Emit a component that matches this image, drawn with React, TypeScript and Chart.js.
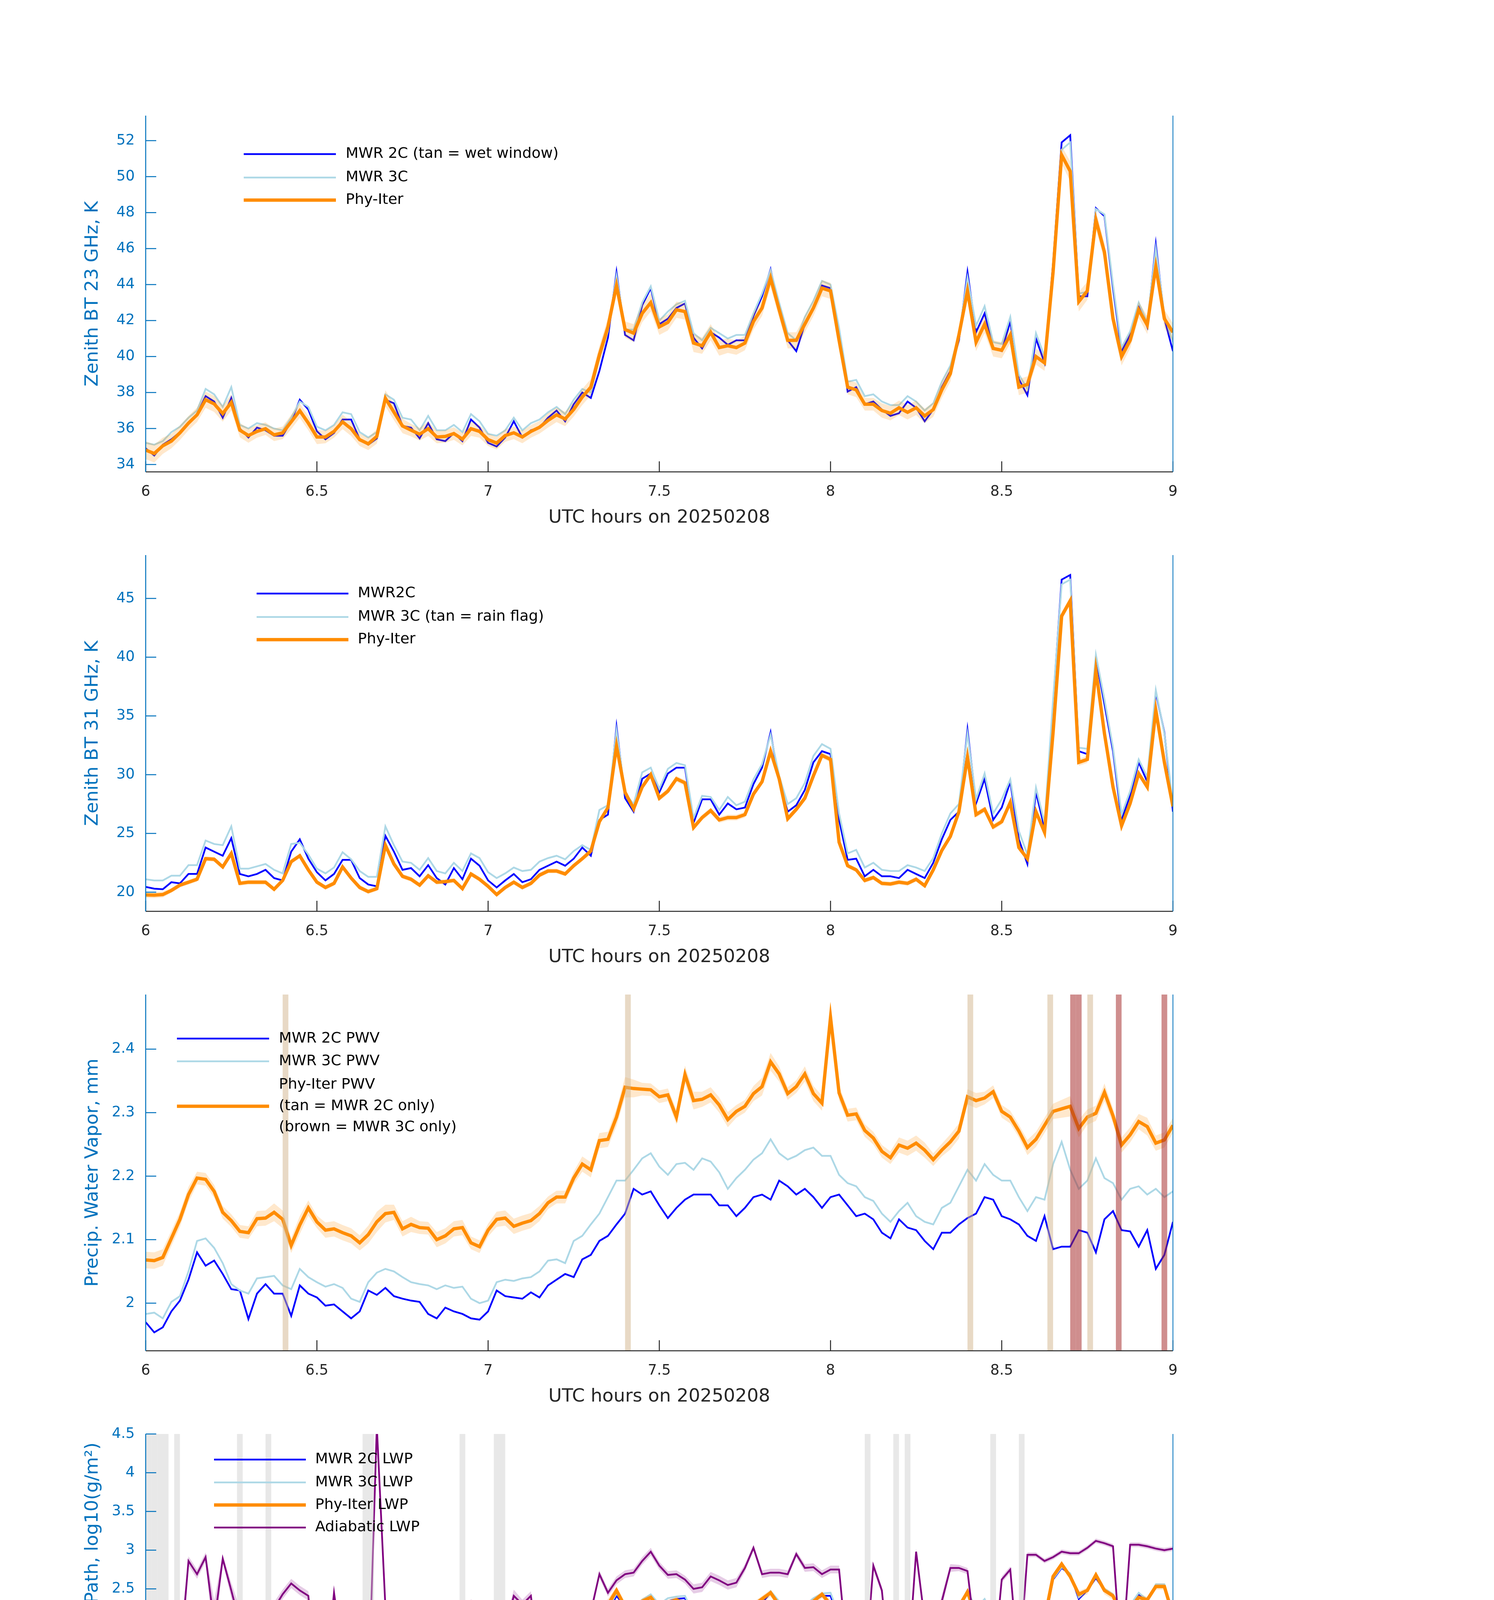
import { useEffect, useRef } from 'react'
import { Chart, registerables } from 'chart.js'

Chart.register(...registerables)

const FONT = "'DejaVu Sans', sans-serif"
const AXIS_BLUE = '#0072BD'
const DARK = '#262626'
const BLUE = '#0000FF'
const LIGHT_BLUE = '#ADD8E6'
const ORANGE = '#FF8C00'
const PURPLE = '#800080'
const ORANGE_BAND = 'rgba(255,140,0,0.2)'
const PURPLE_BAND = 'rgba(128,0,128,0.2)'
const TAN_BAR = 'rgba(210,180,140,0.5)'
const BROWN_BAR = 'rgba(165,42,42,0.53)'
const GREY_BAR = 'rgba(204,204,204,0.45)'

const PAGE_W = 3825
const PLOT_RIGHT = 3003
const Y_AXIS_W = 373
const PLOT_H = 912
const PAD_TOP = 200
const XAXIS_H = 170
const CANVAS_H = PAD_TOP + PLOT_H + XAXIS_H
const PANEL_TOPS = [296, 1421, 2546, 3671, 4796]

// retrieval times: every 1.5 min, 06:00 - 09:00 UTC
const hours = Array.from({ length: 121 }, (_, i) => 6 + i * 0.025)
// DQ flag times: every minute (centre of the minute)
const flagHours = Array.from({ length: 181 }, (_, k) => 6 + (k + 0.5) / 60)
const xTicks = [6, 6.5, 7, 7.5, 8, 8.5, 9]

// ---- panel 1: 23 GHz brightness temperature, K
const bt23Mwr2c = [
  34.9, 34.5, 35.1, 35.4, 35.8, 36.3, 36.8, 37.8, 37.5, 36.6,
  37.7, 36.0, 35.5, 36.05, 35.9, 35.6, 35.6, 36.4, 37.6, 37.05,
  35.85, 35.4, 35.75, 36.5, 36.5, 35.4, 35.1, 35.45, 37.6, 37.4,
  36.15, 36.05, 35.45, 36.3, 35.4, 35.3, 35.75, 35.3, 36.5, 36.05,
  35.2, 35.0, 35.5, 36.4, 35.5, 35.9, 36.05, 36.6, 37.0, 36.4,
  37.35, 38.0, 37.7, 39.2, 41.05, 44.7, 41.2, 40.9, 42.85, 43.8,
  41.8, 42.1, 42.7, 42.95, 41.05, 40.45, 41.35, 41.05, 40.65, 40.9,
  40.9, 42.25, 43.35, 44.85, 42.7, 40.9, 40.3, 41.8, 42.7, 43.95,
  43.8, 41.2, 38.05, 38.3, 37.35, 37.5, 37.05, 36.7, 36.85, 37.5,
  37.15, 36.4, 37.05, 38.3, 39.2, 40.9, 44.7, 41.35, 42.4, 40.45,
  40.3, 41.95, 38.75, 37.85, 41.0, 39.65, 45.2, 51.9, 52.3, 43.35,
  43.35, 48.25, 47.8, 43.8, 40.3, 41.2, 42.9, 41.65, 46.25, 42.1,
  40.3,
]
const bt23Mwr3c = [
  35.2, 35.1, 35.3, 35.8, 36.1, 36.6, 37.0, 38.2, 37.9, 37.2,
  38.3, 36.2, 36.0, 36.3, 36.2, 36.0, 35.9, 36.6, 37.5, 37.2,
  36.1, 35.9, 36.2, 36.9, 36.8, 35.8, 35.5, 35.8, 37.9, 37.6,
  36.6, 36.5, 35.9, 36.7, 35.9, 35.9, 36.2, 35.8, 36.8, 36.4,
  35.7, 35.6, 35.9, 36.6, 35.9, 36.3, 36.5, 36.9, 37.2, 36.8,
  37.6, 38.2, 38.0, 39.9, 41.4, 44.5, 41.5, 41.5, 43.0, 43.9,
  42.0, 42.5, 42.9, 43.1, 41.3, 40.9, 41.6, 41.3, 41.0, 41.2,
  41.2, 42.4, 43.5, 44.8, 43.0, 41.3, 40.9, 42.2, 43.1, 44.2,
  44.0, 41.6, 38.6, 38.7, 37.8, 37.9, 37.5, 37.3, 37.3, 37.8,
  37.5, 37.0, 37.4, 38.6, 39.5, 41.2, 44.4, 41.7, 42.8, 40.8,
  40.7, 42.2, 39.0, 38.2, 41.3, 40.0, 45.0, 51.5, 51.9, 43.5,
  43.6, 48.2, 47.9, 44.0, 40.5, 41.4, 43.0, 41.9, 46.0, 42.3,
  40.8,
]
const bt23Phy = [
  34.8, 34.61, 35.04, 35.3, 35.76, 36.3, 36.76, 37.6, 37.37, 36.83,
  37.45, 35.91, 35.61, 35.84, 35.99, 35.65, 35.76, 36.37, 36.99, 36.3,
  35.53, 35.53, 35.84, 36.37, 35.99, 35.38, 35.15, 35.56, 37.68, 36.91,
  36.14, 35.91, 35.68, 35.99, 35.53, 35.56, 35.72, 35.41, 35.99, 35.84,
  35.38, 35.19, 35.61, 35.76, 35.53, 35.84, 36.07, 36.45, 36.76, 36.53,
  37.06, 37.75, 38.3, 40.1, 41.65, 43.95, 41.5, 41.3, 42.4, 43.0,
  41.65, 41.9, 42.6, 42.5, 40.75, 40.6, 41.35, 40.5, 40.6, 40.5,
  40.75, 41.95, 42.7, 44.35, 42.6, 40.9, 40.9, 41.8, 42.7, 43.8,
  43.65, 40.9, 38.3, 38.15, 37.35, 37.35, 37.0, 36.85, 37.15, 36.9,
  37.15, 36.7, 37.05, 38.15, 39.05, 41.2, 43.65, 40.8, 41.8, 40.45,
  40.35, 41.2, 38.3, 38.45, 40.0, 39.65, 44.7, 51.2, 50.3, 43.05,
  43.65, 47.6, 45.8, 42.1, 40.0, 40.9, 42.6, 41.75, 45.0, 42.1,
  41.35,
]
const bt23Unc = [
  0.5, 0.5, 0.45, 0.4, 0.4, 0.4, 0.4, 0.45, 0.45, 0.45,
  0.45, 0.4, 0.4, 0.35, 0.35, 0.35, 0.35, 0.4, 0.4, 0.4,
  0.4, 0.35, 0.35, 0.4, 0.4, 0.35, 0.35, 0.4, 0.45, 0.45,
  0.4, 0.35, 0.35, 0.4, 0.35, 0.35, 0.35, 0.35, 0.4, 0.35,
  0.35, 0.35, 0.35, 0.35, 0.35, 0.35, 0.35, 0.4, 0.4, 0.4,
  0.4, 0.45, 0.45, 0.5, 0.5, 0.5, 0.45, 0.5, 0.5, 0.5,
  0.45, 0.45, 0.45, 0.45, 0.5, 0.45, 0.45, 0.45, 0.4, 0.4,
  0.4, 0.45, 0.45, 0.5, 0.45, 0.45, 0.45, 0.45, 0.45, 0.45,
  0.45, 0.45, 0.4, 0.4, 0.35, 0.35, 0.4, 0.4, 0.4, 0.4,
  0.4, 0.4, 0.4, 0.45, 0.45, 0.45, 0.5, 0.5, 0.5, 0.45,
  0.45, 0.45, 0.45, 0.45, 0.45, 0.45, 0.5, 0.5, 0.55, 0.55,
  0.5, 0.5, 0.5, 0.5, 0.5, 0.45, 0.45, 0.5, 0.5, 0.5,
  0.5,
]

// ---- panel 2: 31 GHz brightness temperature, K
const bt31Mwr2c = [
  20.45, 20.3, 20.25, 20.85, 20.75, 21.55, 21.55, 23.8, 23.45, 23.1,
  24.6, 21.55, 21.35, 21.55, 21.9, 21.2, 21.0, 23.45, 24.5, 22.85,
  21.7, 21.0, 21.55, 22.75, 22.75, 21.2, 20.65, 20.5, 24.8, 23.45,
  21.9, 22.05, 21.35, 22.3, 21.2, 20.65, 22.05, 21.1, 22.85, 22.25,
  21.0, 20.4, 21.0, 21.55, 20.85, 21.1, 21.9, 22.25, 22.6, 22.25,
  22.85, 23.8, 23.1, 26.15, 26.6, 34.1, 28.0, 26.85, 29.65, 30.1,
  28.5, 30.1, 30.6, 30.6, 25.9, 27.9, 27.9, 26.6, 27.55, 27.05,
  27.2, 29.2, 30.6, 33.6, 29.4, 26.85, 27.4, 28.7, 31.05, 32.0,
  31.75, 26.15, 22.75, 22.85, 21.35, 21.9, 21.35, 21.35, 21.2, 21.9,
  21.55, 21.2, 22.5, 24.5, 26.15, 26.85, 33.85, 27.55, 29.65, 26.15,
  27.2, 29.4, 24.5, 22.4, 28.5, 25.45, 36.0, 46.6, 47.0, 32.0,
  31.75, 39.95, 36.0, 32.0, 26.15, 28.25, 31.05, 29.4, 37.0, 33.6,
  26.85,
]
const bt31Mwr3c = [
  21.1, 21.0, 21.0, 21.4, 21.4, 22.3, 22.3, 24.4, 24.1, 24.0,
  25.6, 22.0, 22.0, 22.2, 22.4, 21.9, 21.6, 24.1, 24.2, 23.2,
  22.0, 21.6, 22.1, 23.4, 22.8, 21.8, 21.3, 21.3, 25.6, 24.0,
  22.6, 22.5, 21.9, 22.9, 21.8, 21.6, 22.5, 21.8, 23.3, 22.9,
  21.7, 21.2, 21.6, 22.1, 21.8, 21.9, 22.6, 22.9, 23.1, 22.8,
  23.5, 24.0, 23.6, 27.0, 27.4, 33.8, 28.4, 27.5, 30.2, 30.6,
  28.8, 30.5, 31.0, 30.8, 26.3, 28.2, 28.1, 27.0, 28.1, 27.4,
  27.7, 29.6, 30.9, 33.4, 29.9, 27.5, 28.0, 29.3, 31.6, 32.6,
  32.2, 26.7, 23.3, 23.6, 22.1, 22.5, 21.9, 21.8, 21.8, 22.3,
  22.1, 21.8, 22.9, 25.0, 26.7, 27.5, 33.5, 27.9, 30.1, 26.7,
  27.9, 29.6, 25.2, 23.2, 28.9, 25.9, 36.4, 46.2, 46.6, 32.3,
  32.2, 40.2, 36.4, 32.3, 26.6, 28.6, 31.3, 29.8, 37.2, 33.5,
  27.5,
]
const bt31Phy = [
  19.77, 19.75, 19.8, 20.15, 20.6, 20.85, 21.1, 22.85, 22.8, 22.15,
  23.3, 20.75, 20.85, 20.85, 20.85, 20.25, 21.0, 22.6, 23.1, 21.9,
  20.85, 20.4, 20.75, 22.15, 21.2, 20.4, 20.05, 20.3, 24.0, 22.4,
  21.35, 21.1, 20.6, 21.4, 20.85, 20.9, 21.0, 20.3, 21.55, 21.1,
  20.5, 19.8, 20.4, 20.85, 20.4, 20.75, 21.45, 21.8, 21.8, 21.55,
  22.25, 22.85, 23.5, 26.0, 27.2, 32.45, 28.5, 27.1, 28.95, 30.0,
  28.0, 28.6, 29.65, 29.3, 25.5, 26.35, 26.95, 26.15, 26.35, 26.35,
  26.6, 28.35, 29.4, 32.0, 29.65, 26.25, 27.05, 28.0, 29.9, 31.65,
  31.3, 24.25, 22.25, 21.9, 21.0, 21.25, 20.75, 20.7, 20.85, 20.75,
  21.1, 20.55, 21.9, 23.55, 24.75, 26.85, 31.5, 26.6, 27.05, 25.55,
  26.0, 27.65, 23.8, 22.85, 26.85, 25.1, 33.6, 43.5, 44.8, 31.05,
  31.3, 38.9, 33.5, 28.95, 25.65, 27.55, 30.1, 28.95, 35.5, 31.05,
  27.3,
]
const bt31Unc = [
  0.25, 0.25, 0.25, 0.2, 0.2, 0.2, 0.2, 0.2, 0.2, 0.2,
  0.2, 0.2, 0.2, 0.2, 0.2, 0.2, 0.2, 0.2, 0.2, 0.2,
  0.2, 0.2, 0.2, 0.2, 0.2, 0.2, 0.2, 0.2, 0.25, 0.2,
  0.2, 0.2, 0.2, 0.2, 0.2, 0.2, 0.2, 0.2, 0.2, 0.2,
  0.2, 0.2, 0.2, 0.2, 0.2, 0.2, 0.2, 0.2, 0.2, 0.2,
  0.2, 0.2, 0.25, 0.25, 0.25, 0.3, 0.25, 0.25, 0.25, 0.25,
  0.25, 0.25, 0.25, 0.25, 0.25, 0.25, 0.25, 0.25, 0.25, 0.25,
  0.25, 0.25, 0.25, 0.3, 0.25, 0.25, 0.25, 0.25, 0.25, 0.25,
  0.25, 0.25, 0.2, 0.2, 0.2, 0.2, 0.2, 0.2, 0.2, 0.2,
  0.2, 0.2, 0.2, 0.25, 0.25, 0.25, 0.3, 0.25, 0.25, 0.25,
  0.25, 0.25, 0.25, 0.25, 0.25, 0.25, 0.3, 0.35, 0.35, 0.3,
  0.3, 0.3, 0.3, 0.3, 0.25, 0.25, 0.25, 0.25, 0.3, 0.3,
  0.3,
]

// ---- panel 3: precipitable water vapour, mm
const pwvMwr2c = [
  1.970, 1.954, 1.962, 1.987, 2.004, 2.037, 2.080, 2.059, 2.067, 2.046,
  2.022, 2.020, 1.975, 2.015, 2.030, 2.015, 2.015, 1.980, 2.028, 2.015,
  2.009, 1.996, 1.998, 1.987, 1.976, 1.987, 2.020, 2.013, 2.024, 2.011,
  2.007, 2.004, 2.002, 1.983, 1.976, 1.993, 1.987, 1.983, 1.976, 1.974,
  1.987, 2.020, 2.011, 2.009, 2.007, 2.017, 2.009, 2.028, 2.037, 2.046,
  2.041, 2.069, 2.076, 2.098, 2.106, 2.124, 2.141, 2.180, 2.171, 2.176,
  2.154, 2.134, 2.150, 2.163, 2.171, 2.171, 2.171, 2.154, 2.154, 2.137,
  2.150, 2.167, 2.171, 2.163, 2.193, 2.184, 2.171, 2.180, 2.167, 2.150,
  2.167, 2.171, 2.154, 2.137, 2.141, 2.132, 2.111, 2.102, 2.132, 2.119,
  2.115, 2.098, 2.085, 2.111, 2.111, 2.124, 2.134, 2.141, 2.167, 2.163,
  2.137, 2.132, 2.124, 2.106, 2.098, 2.137, 2.085, 2.089, 2.089, 2.115,
  2.111, 2.080, 2.132, 2.145, 2.115, 2.113, 2.089, 2.115, 2.054, 2.076,
  2.128,
]
const pwvMwr3c = [
  1.983, 1.985, 1.976, 2.002, 2.011, 2.050, 2.098, 2.102, 2.087, 2.063,
  2.030, 2.020, 2.015, 2.039, 2.041, 2.043, 2.028, 2.022, 2.054, 2.041,
  2.033, 2.026, 2.030, 2.024, 2.007, 2.002, 2.033, 2.048, 2.054, 2.050,
  2.041, 2.033, 2.030, 2.028, 2.022, 2.028, 2.024, 2.026, 2.007, 2.000,
  2.004, 2.033, 2.037, 2.035, 2.039, 2.041, 2.050, 2.067, 2.069, 2.063,
  2.098, 2.106, 2.124, 2.141, 2.167, 2.193, 2.193, 2.210, 2.228, 2.236,
  2.215, 2.202, 2.219, 2.221, 2.210, 2.228, 2.223, 2.206, 2.180, 2.197,
  2.210, 2.226, 2.236, 2.258, 2.236, 2.226, 2.232, 2.241, 2.245, 2.232,
  2.232, 2.202, 2.189, 2.184, 2.167, 2.161, 2.141, 2.128, 2.145, 2.158,
  2.137, 2.128, 2.124, 2.150, 2.158, 2.184, 2.210, 2.193, 2.219, 2.202,
  2.193, 2.193, 2.167, 2.145, 2.167, 2.163, 2.219, 2.254, 2.210, 2.180,
  2.193, 2.228, 2.197, 2.189, 2.163, 2.180, 2.184, 2.171, 2.180, 2.167,
  2.176,
]
const pwvPhy = [
  2.068, 2.067, 2.072, 2.102, 2.132, 2.171, 2.197, 2.195, 2.176, 2.143,
  2.130, 2.113, 2.111, 2.133, 2.134, 2.143, 2.132, 2.091, 2.123, 2.150,
  2.128, 2.115, 2.117, 2.111, 2.106, 2.095, 2.108, 2.128, 2.141, 2.143,
  2.117, 2.124, 2.119, 2.118, 2.100, 2.106, 2.117, 2.119, 2.095, 2.089,
  2.115, 2.132, 2.134, 2.121, 2.126, 2.130, 2.141, 2.158, 2.167, 2.167,
  2.197, 2.219, 2.210, 2.256, 2.258, 2.293, 2.340, 2.338, 2.337, 2.336,
  2.325, 2.328, 2.293, 2.360, 2.319, 2.321, 2.328, 2.312, 2.289, 2.302,
  2.310, 2.330, 2.341, 2.380, 2.361, 2.330, 2.341, 2.361, 2.330, 2.315,
  2.450, 2.331, 2.296, 2.298, 2.272, 2.260, 2.239, 2.229, 2.249, 2.244,
  2.252, 2.241, 2.226, 2.241, 2.254, 2.271, 2.325, 2.319, 2.323, 2.333,
  2.302, 2.293, 2.271, 2.245, 2.258, 2.280, 2.302, 2.306, 2.310, 2.275,
  2.293, 2.299, 2.332, 2.295, 2.249, 2.265, 2.286, 2.278, 2.252, 2.257,
  2.280,
]
const pwvUnc = [
  0.013, 0.013, 0.013, 0.012, 0.012, 0.012, 0.01, 0.01, 0.01, 0.01,
  0.01, 0.01, 0.01, 0.012, 0.012, 0.014, 0.014, 0.012, 0.014, 0.012,
  0.01, 0.012, 0.012, 0.012, 0.012, 0.012, 0.014, 0.016, 0.014, 0.012,
  0.012, 0.012, 0.01, 0.01, 0.012, 0.012, 0.012, 0.012, 0.01, 0.01,
  0.01, 0.012, 0.012, 0.012, 0.012, 0.012, 0.012, 0.01, 0.01, 0.01,
  0.01, 0.012, 0.012, 0.012, 0.012, 0.014, 0.016, 0.014, 0.01, 0.01,
  0.01, 0.01, 0.012, 0.014, 0.014, 0.012, 0.012, 0.012, 0.012, 0.01,
  0.01, 0.012, 0.014, 0.014, 0.012, 0.01, 0.01, 0.012, 0.012, 0.012,
  0.02, 0.012, 0.01, 0.01, 0.01, 0.01, 0.01, 0.01, 0.012, 0.012,
  0.012, 0.012, 0.01, 0.01, 0.012, 0.012, 0.012, 0.012, 0.01, 0.01,
  0.01, 0.01, 0.01, 0.012, 0.012, 0.012, 0.012, 0.014, 0.016, 0.014,
  0.012, 0.012, 0.014, 0.012, 0.012, 0.012, 0.012, 0.014, 0.012, 0.012,
  0.012,
]
// minutes after 06:00 with a single-instrument retrieval
const pwvTanMinutes = [24, 84, 144, 158, 165]
const pwvBrownMinutes = [162, 163, 170, 178]

// ---- panel 4: liquid water path, log10(g/m2)
const lwpMwr2c = [
  1.57, 1.54, 1.56, 1.66, 1.57, 1.73, 1.70, 1.98, 1.91, 1.95,
  2.05, 1.73, 1.73, 1.80, 1.77, 1.57, 1.70, 1.88, 2.02, 1.89,
  1.63, 1.72, 1.77, 1.93, 1.80, 1.59, 1.54, 1.48, 1.98, 2.11,
  1.77, 1.80, 1.70, 1.75, 1.66, 1.88, 1.77, 1.68, 1.91, 1.88,
  1.70, 1.47, 1.64, 1.70, 1.63, 1.72, 1.77, 1.80, 1.84, 1.86,
  1.77, 1.88, 1.93, 2.14, 2.20, 2.41, 2.27, 2.23, 2.32, 2.39,
  2.27, 2.34, 2.37, 2.38, 2.11, 2.23, 2.21, 2.17, 2.18, 2.20,
  2.18, 2.30, 2.32, 2.45, 2.30, 2.16, 2.14, 2.25, 2.34, 2.41,
  2.41, 2.11, 1.79, 1.84, 1.59, 1.70, 1.61, 1.63, 1.63, 1.70,
  1.64, 1.60, 1.77, 2.02, 2.11, 2.27, 2.48, 2.20, 2.34, 2.11,
  2.20, 2.30, 1.98, 1.80, 2.27, 2.07, 2.62, 2.77, 2.69, 2.37,
  2.48, 2.64, 2.48, 2.41, 2.18, 2.27, 2.43, 2.34, 2.55, 2.55,
  2.14,
]
const lwpMwr3c = [
  1.64, 1.62, 1.63, 1.70, 1.66, 1.79, 1.78, 2.03, 1.97, 2.02,
  2.15, 1.80, 1.77, 1.84, 1.81, 1.64, 1.76, 1.95, 2.05, 1.93,
  1.70, 1.76, 1.83, 1.98, 1.85, 1.66, 1.62, 1.63, 2.05, 2.14,
  1.85, 1.86, 1.76, 1.82, 1.74, 1.92, 1.83, 1.74, 1.96, 1.94,
  1.77, 1.58, 1.72, 1.76, 1.70, 1.78, 1.82, 1.84, 1.88, 1.90,
  1.84, 1.93, 1.96, 2.18, 2.24, 2.44, 2.30, 2.28, 2.36, 2.43,
  2.30, 2.38, 2.40, 2.41, 2.16, 2.27, 2.24, 2.22, 2.22, 2.24,
  2.22, 2.33, 2.35, 2.47, 2.34, 2.21, 2.20, 2.29, 2.38, 2.44,
  2.45, 2.16, 1.87, 1.90, 1.68, 1.74, 1.68, 1.69, 1.70, 1.76,
  1.70, 1.67, 1.80, 2.05, 2.15, 2.30, 2.47, 2.25, 2.37, 2.15,
  2.24, 2.33, 2.04, 1.87, 2.29, 2.10, 2.63, 2.78, 2.70, 2.39,
  2.49, 2.66, 2.50, 2.43, 2.21, 2.29, 2.45, 2.36, 2.56, 2.56,
  2.17,
]
const lwpPhy = [
  1.02, 0.72, 0.84, 1.24, 1.34, 1.25, 1.63, 1.82, 1.82, 1.77,
  1.80, 1.34, 1.38, 1.43, 1.32, 0.67, 1.41, 1.77, 1.91, 1.70,
  1.06, 1.34, 1.63, 1.80, 1.56, 1.20, 0.49, -0.5, 1.88, 1.84,
  1.52, 1.59, 1.38, 1.16, 1.48, 1.43, 1.31, 1.02, 1.70, 1.66,
  1.34, -0.5, -0.5, 1.43, 0.81, 1.41, 1.54, 1.59, 1.66, 1.54,
  1.63, 1.79, 2.11, 2.20, 2.30, 2.48, 2.27, 2.21, 2.34, 2.39,
  2.25, 2.32, 2.36, 2.30, 2.11, 2.16, 2.20, 2.13, 2.16, 2.15,
  2.20, 2.29, 2.37, 2.45, 2.29, 2.14, 2.13, 2.25, 2.34, 2.43,
  2.30, 2.02, 1.56, 1.52, 0.95, 1.15, 0.81, 0.77, 0.81, 0.50,
  0.84, -0.5, 1.60, 1.91, 2.05, 2.27, 2.46, 2.14, 2.23, 2.07,
  2.16, 2.25, 2.05, 1.80, 2.20, 2.11, 2.66, 2.82, 2.66, 2.43,
  2.48, 2.68, 2.48, 2.41, 2.16, 2.25, 2.39, 2.36, 2.53, 2.53,
  2.16,
]
const lwpPhyHigh = [
  1.34, 1.2, 1.3, 1.5, 1.6, 1.55, 1.85, 1.95, 1.95, 1.9,
  1.95, 1.6, 1.6, 1.65, 1.6, 1.3, 1.65, 1.9, 2.0, 1.85,
  1.5, 1.6, 1.8, 1.9, 1.75, 1.5, 1.1, 0.8, 2.0, 1.95,
  1.75, 1.75, 1.6, 1.5, 1.65, 1.6, 1.5, 1.4, 1.8, 1.78,
  1.55, 0.8, 0.9, 1.6, 1.3, 1.6, 1.7, 1.75, 1.8, 1.72,
  1.78, 1.92, 2.2, 2.28, 2.37, 2.53, 2.33, 2.27, 2.38, 2.43,
  2.29, 2.36, 2.4, 2.34, 2.16, 2.2, 2.24, 2.17, 2.2, 2.19,
  2.24, 2.33, 2.41, 2.49, 2.33, 2.18, 2.17, 2.29, 2.38, 2.47,
  2.35, 2.12, 1.75, 1.7, 1.4, 1.5, 1.3, 1.25, 1.3, 1.2,
  1.3, 1.0, 1.7, 2.0, 2.12, 2.32, 2.5, 2.19, 2.27, 2.12,
  2.2, 2.29, 2.1, 1.9, 2.25, 2.16, 2.7, 2.86, 2.7, 2.47,
  2.52, 2.72, 2.52, 2.45, 2.2, 2.29, 2.43, 2.4, 2.57, 2.57,
  2.2,
]
const lwpPhyLow = [
  -1, -1, -1, 0.5, -1, -1, -1, 0.3, 0.3, 0.8,
  -1, -1, -1, 0.9, -1, -1, 0.6, 1.2, 1.5, 1.3,
  -1, 0.8, 1.2, 1.3, 0.9, -1, -1, -1, 1.4, 1.5,
  1.1, 1.0, 0.8, -1, 0.9, 0.8, 0.9, -1, 1.1, 1.2,
  0.7, -1, -1, -1, -1, 0.9, 1.0, 1.1, 1.3, 1.3,
  1.4, 1.6, 2.0, 2.12, 2.23, 2.42, 2.2, 2.14, 2.28, 2.34,
  2.2, 2.27, 2.31, 2.25, 2.05, 2.11, 2.15, 2.08, 2.11, 2.1,
  2.15, 2.24, 2.32, 2.4, 2.24, 2.09, 2.08, 2.2, 2.29, 2.38,
  2.25, 1.9, 1.3, 1.3, -1, -1, -1, -1, -1, -1,
  -1, -1, -1, 1.8, 2.0, 2.22, 2.41, 2.08, 2.18, 2.02,
  2.11, 2.2, 1.98, 1.7, 2.14, 2.05, 2.62, 2.78, 2.62, 2.38,
  2.43, 2.64, 2.43, 2.36, 2.1, 2.2, 2.34, 2.31, 2.49, 2.49,
  2.1,
]
const lwpAdiabatic = [
  1.48, 1.15, 1.15, 2.09, 1.56, 2.86, 2.69, 2.91, 2.05, 2.89,
  2.48, 2.05, 1.63, 1.27, 1.43, 2.25, 2.43, 2.57, 2.48, 2.41,
  1.31, 1.36, 2.45, 1.63, 1.50, 1.20, 1.04, 4.6, 2.27, 2.27,
  1.80, 1.93, 1.91, 2.02, 2.13, 2.04, 2.07, 1.50, 2.32, 2.13,
  1.98, 1.61, 1.98, 2.41, 2.30, 2.41, 1.52, 1.66, 2.23, 2.13,
  2.00, 1.77, 2.20, 2.69, 2.45, 2.61, 2.69, 2.71, 2.86, 2.98,
  2.80, 2.68, 2.69, 2.62, 2.50, 2.52, 2.66, 2.61, 2.55, 2.58,
  2.77, 3.03, 2.69, 2.71, 2.71, 2.69, 2.95, 2.77, 2.78, 2.69,
  2.75, 2.75, 1.59, 1.61, 1.41, 2.80, 2.48, 1.34, 1.84, 1.41,
  2.98, 2.09, 1.95, 2.34, 2.77, 2.77, 2.73, 1.80, 2.23, 1.45,
  2.62, 2.75, 1.45, 2.94, 2.94, 2.86, 2.91, 2.98, 2.96, 2.96,
  3.03, 3.12, 3.09, 3.05, 1.50, 3.07, 3.07, 3.05, 3.02, 3.00,
  3.02,
]
const lwpAdiabaticUnc = [
  0.35, 0.4, 0.4, 0.25, 0.3, 0.06, 0.06, 0.06, 0.3, 0.05,
  0.1, 0.2, 0.25, 0.3, 0.3, 0.08, 0.06, 0.06, 0.06, 0.06,
  0.15, 0.2, 0.06, 0.25, 0.2, 0.3, 0.3, 0.05, 0.06, 0.06,
  0.15, 0.12, 0.1, 0.12, 0.1, 0.1, 0.08, 0.1, 0.05, 0.06,
  0.1, 0.15, 0.1, 0.08, 0.06, 0.06, 0.15, 0.1, 0.1, 0.08,
  0.08, 0.08, 0.06, 0.05, 0.05, 0.05, 0.05, 0.05, 0.05, 0.05,
  0.05, 0.05, 0.05, 0.05, 0.06, 0.06, 0.06, 0.06, 0.06, 0.06,
  0.05, 0.04, 0.05, 0.05, 0.05, 0.05, 0.04, 0.05, 0.05, 0.05,
  0.05, 0.05, 0.1, 0.1, 0.12, 0.05, 0.05, 0.2, 0.1, 0.15,
  0.04, 0.08, 0.08, 0.08, 0.05, 0.04, 0.04, 0.1, 0.06, 0.2,
  0.04, 0.04, 0.2, 0.03, 0.03, 0.03, 0.03, 0.03, 0.03, 0.03,
  0.03, 0.03, 0.03, 0.03, 0.25, 0.03, 0.03, 0.03, 0.03, 0.03,
  0.03,
]

// ---- panel 5: Phy-Iter data quality flag, one per minute
const dqFlags = [
  4, 4, 4, 4, 0, 4, 0, 0, 0, 0, 0, 0, 0, 0, 0, 0, 4, 0, 0, 0,
  0, 4, 0, 0, 0, 0, 0, 0, 0, 0, 0, 0, 0, 0, 0, 0, 0, 0, 4, 4,
  6, 0, 0, 0, 0, 0, 0, 0, 0, 0, 0, 0, 0, 0, 0, 4, 0, 0, 0, 0,
  0, 4, 4, 0, 0, 0, 0, 0, 0, 0, 0, 0, 0, 0, 0, 0, 0, 0, 0, 0,
  0, 0, 0, 0, 0, 0, 0, 0, 0, 0, 0, 0, 0, 0, 6, 0, 0, 0, 0, 0,
  0, 0, 0, 0, 0, 0, 0, 0, 0, 0, 0, 0, 0, 0, 0, 0, 0, 0, 0, 6,
  0, 0, 0, 0, 0, 0, 4, 0, 0, 0, 0, 4, 0, 4, 0, 0, 0, 0, 0, 0,
  0, 0, 0, 0, 0, 0, 0, 6, 4, 0, 0, 0, 0, 4, 0, 0, 0, 0, 0, 0,
  0, 0, 0, 0, 0, 0, 0, 0, 0, 0, 0, 0, 0, 0, 0, 0, 0, 0, 0, 0,
  0,
]
// minute that carries a second flag value
const dqExtraMinutes = [40]
const dqExtraFlags = [4]

const xy = (vals: number[], t: number[] = hours) => vals.map((y, i) => ({ x: t[i], y }))
const add = (a: number[], b: number[]) => a.map((v, i) => v + b[i])
const sub = (a: number[], b: number[]) => a.map((v, i) => v - b[i])

function lineSet(label: string, vals: number[], color: string, width: number, order: number) {
  return {
    label, data: xy(vals), borderColor: color, backgroundColor: color, borderWidth: width,
    pointRadius: 0, pointHoverRadius: 0, tension: 0, fill: false, clip: 0, order,
  }
}

function bandSets(label: string, hi: number[], lo: number[], color: string, order: number) {
  return [
    { label: label + ' hi', data: xy(hi), borderColor: 'rgba(0,0,0,0)', borderWidth: 1, pointRadius: 0,
      fill: '+1', backgroundColor: color, tension: 0, clip: 0, order },
    { label: label + ' lo', data: xy(lo), borderColor: 'rgba(0,0,0,0)', borderWidth: 1, pointRadius: 0,
      fill: false, tension: 0, clip: 0, order },
  ]
}

const minuteBars = (minutes: number[], color: string) =>
  minutes.map(m => ({ from: 6 + m / 60, to: 6 + (m + 1) / 60, color }))

type LegendRow = { text: string; y: number; color?: string; width?: number }
type LegendSpec = { x0: number; x1: number; tx: number; rows: LegendRow[] }
type Bar = { from: number; to: number; color: string }

function framePlugin(legend: LegendSpec | null, bars: Bar[]) {
  return {
    id: 'frame',
    afterDatasetsDraw(chart: any) {
      const { ctx, chartArea: a, scales: { x } } = chart
      ctx.save()
      ctx.beginPath(); ctx.rect(a.left, a.top, a.right - a.left, a.bottom - a.top); ctx.clip()
      for (const b of bars) {
        const p0 = x.getPixelForValue(b.from), p1 = x.getPixelForValue(b.to)
        ctx.fillStyle = b.color
        ctx.fillRect(p0, a.top, p1 - p0, a.bottom - a.top)
      }
      ctx.restore()
    },
    afterDraw(chart: any) {
      const { ctx, chartArea: a, scales: { x, y } } = chart
      ctx.save()
      ctx.lineCap = 'butt'
      // inward tick marks
      ctx.lineWidth = 2.5
      ctx.strokeStyle = AXIS_BLUE
      for (const t of y.ticks) {
        const py = y.getPixelForValue(t.value)
        ctx.beginPath(); ctx.moveTo(a.left, py); ctx.lineTo(a.left + 27, py); ctx.stroke()
      }
      ctx.strokeStyle = DARK
      for (const t of x.ticks) {
        const px = x.getPixelForValue(t.value)
        ctx.beginPath(); ctx.moveTo(px, a.bottom); ctx.lineTo(px, a.bottom - 27); ctx.stroke()
      }
      // axis lines
      ctx.strokeStyle = DARK
      ctx.beginPath(); ctx.moveTo(a.left, a.bottom); ctx.lineTo(a.right, a.bottom); ctx.stroke()
      ctx.strokeStyle = AXIS_BLUE
      ctx.beginPath(); ctx.moveTo(a.left, a.top); ctx.lineTo(a.left, a.bottom); ctx.stroke()
      ctx.lineWidth = 2
      ctx.beginPath(); ctx.moveTo(a.right, a.top); ctx.lineTo(a.right, a.bottom); ctx.stroke()
      // legend
      if (legend) {
        ctx.font = `38px ${FONT}`
        ctx.textBaseline = 'middle'
        ctx.textAlign = 'left'
        for (const r of legend.rows) {
          if (r.color) {
            ctx.strokeStyle = r.color
            ctx.lineWidth = r.width || 4.5
            ctx.beginPath()
            ctx.moveTo(a.left + legend.x0, a.top + r.y)
            ctx.lineTo(a.left + legend.x1, a.top + r.y)
            ctx.stroke()
          }
          ctx.fillStyle = '#000'
          ctx.fillText(r.text, a.left + legend.tx, a.top + r.y)
        }
      }
      ctx.restore()
    },
  }
}

type PanelSpec = {
  yMin: number; yMax: number; yTicks: number[]; yTitle: string
  datasets: () => any[]; legend: LegendSpec | null; bars: Bar[]
}

const fmt = (v: number) => String(Number(v.toFixed(2)))

const panels: PanelSpec[] = [
  {
    yMin: 33.59, yMax: 53.39, yTicks: [34, 36, 38, 40, 42, 44, 46, 48, 50, 52],
    yTitle: 'Zenith BT 23 GHz, K',
    datasets: () => [
      lineSet('MWR 2C', bt23Mwr2c, BLUE, 4.5, 5),
      lineSet('MWR 3C', bt23Mwr3c, LIGHT_BLUE, 4.5, 4),
      ...bandSets('Phy-Iter', add(bt23Phy, bt23Unc), sub(bt23Phy, bt23Unc), ORANGE_BAND, 3),
      lineSet('Phy-Iter', bt23Phy, ORANGE, 8.5, 1),
    ],
    legend: {
      x0: 251, x1: 487, tx: 512,
      rows: [
        { text: 'MWR 2C (tan = wet window)', y: 98.6, color: BLUE, width: 4.5 },
        { text: 'MWR 3C', y: 158.5, color: LIGHT_BLUE, width: 4.5 },
        { text: 'Phy-Iter', y: 216.3, color: ORANGE, width: 8.5 },
      ],
    },
    bars: [],
  },
  {
    yMin: 18.37, yMax: 48.69, yTicks: [20, 25, 30, 35, 40, 45],
    yTitle: 'Zenith BT 31 GHz, K',
    datasets: () => [
      lineSet('MWR2C', bt31Mwr2c, BLUE, 4.5, 5),
      lineSet('MWR 3C', bt31Mwr3c, LIGHT_BLUE, 4.5, 4),
      ...bandSets('Phy-Iter', add(bt31Phy, bt31Unc), sub(bt31Phy, bt31Unc), ORANGE_BAND, 3),
      lineSet('Phy-Iter', bt31Phy, ORANGE, 8.5, 1),
    ],
    legend: {
      x0: 284, x1: 519, tx: 543,
      rows: [
        { text: 'MWR2C', y: 98.6, color: BLUE, width: 4.5 },
        { text: 'MWR 3C (tan = rain flag)', y: 158.6, color: LIGHT_BLUE, width: 4.5 },
        { text: 'Phy-Iter', y: 216.4, color: ORANGE, width: 8.5 },
      ],
    },
    bars: [],
  },
  {
    yMin: 1.925, yMax: 2.486, yTicks: [2, 2.1, 2.2, 2.3, 2.4],
    yTitle: 'Precip. Water Vapor, mm',
    datasets: () => [
      lineSet('MWR 2C PWV', pwvMwr2c, BLUE, 4.5, 5),
      lineSet('MWR 3C PWV', pwvMwr3c, LIGHT_BLUE, 4.5, 4),
      ...bandSets('Phy-Iter PWV', add(pwvPhy, pwvUnc), sub(pwvPhy, pwvUnc), ORANGE_BAND, 3),
      lineSet('Phy-Iter PWV', pwvPhy, ORANGE, 8.5, 1),
    ],
    legend: {
      x0: 80, x1: 316, tx: 341,
      rows: [
        { text: 'MWR 2C PWV', y: 112.7, color: BLUE, width: 4.5 },
        { text: 'MWR 3C PWV', y: 171, color: LIGHT_BLUE, width: 4.5 },
        { text: 'Phy-Iter PWV', y: 231 },
        { text: '(tan = MWR 2C only)', y: 286, color: ORANGE, width: 8.5 },
        { text: '(brown = MWR 3C only)', y: 340.5 },
      ],
    },
    bars: [...minuteBars(pwvTanMinutes, TAN_BAR), ...minuteBars(pwvBrownMinutes, BROWN_BAR)],
  },
  {
    yMin: -0.1, yMax: 4.5, yTicks: [0, 0.5, 1, 1.5, 2, 2.5, 3, 3.5, 4, 4.5],
    yTitle: 'log10 Liquid Water Path, log10(g/m\u00B2)',
    datasets: () => [
      lineSet('MWR 2C LWP', lwpMwr2c, BLUE, 4.5, 7),
      lineSet('MWR 3C LWP', lwpMwr3c, LIGHT_BLUE, 4.5, 6),
      ...bandSets('Phy-Iter LWP', lwpPhyHigh, lwpPhyLow, ORANGE_BAND, 5),
      lineSet('Phy-Iter LWP', lwpPhy, ORANGE, 8.5, 4),
      ...bandSets('Adiabatic LWP', add(lwpAdiabatic, lwpAdiabaticUnc), sub(lwpAdiabatic, lwpAdiabaticUnc), PURPLE_BAND, 3),
      lineSet('Adiabatic LWP', lwpAdiabatic, PURPLE, 4.5, 2),
    ],
    legend: {
      x0: 175, x1: 410, tx: 434,
      rows: [
        { text: 'MWR 2C LWP', y: 65.4, color: BLUE, width: 4.5 },
        { text: 'MWR 3C LWP', y: 123.9, color: LIGHT_BLUE, width: 4.5 },
        { text: 'Phy-Iter LWP', y: 181.7, color: ORANGE, width: 8.5 },
        { text: 'Adiabatic LWP', y: 239.5, color: PURPLE, width: 4.5 },
      ],
    },
    bars: minuteBars(dqFlags.map((f, k) => (f === 4 ? k : -1)).filter(k => k >= 0), GREY_BAR),
  },
  {
    yMin: -0.5, yMax: 11.5, yTicks: [0, 2, 4, 6, 8, 10],
    yTitle: 'MWR Phy Iter DQ Flag',
    datasets: () => [
      {
        label: 'DQ flag',
        data: [
          ...xy(dqFlags, flagHours),
          ...dqExtraMinutes.map((m, i) => ({ x: flagHours[m], y: dqExtraFlags[i] })),
        ],
        showLine: false, pointRadius: 4.5, pointHoverRadius: 4.5, pointBorderWidth: 0,
        pointBackgroundColor: ORANGE, borderColor: ORANGE, backgroundColor: ORANGE,
        clip: { left: 10, right: 10, top: 0, bottom: 0 },
      },
    ],
    legend: null,
    bars: [],
  },
]

function makeConfig(p: PanelSpec): any {
  return {
    type: 'line',
    data: { datasets: p.datasets() },
    options: {
      responsive: false,
      animation: false,
      devicePixelRatio: 1,
      events: [],
      layout: { padding: { top: PAD_TOP, left: 0, right: PAGE_W - PLOT_RIGHT, bottom: 0 } },
      plugins: { legend: { display: false }, tooltip: { enabled: false } },
      scales: {
        x: {
          type: 'linear', min: 6, max: 9, bounds: 'data',
          afterBuildTicks: (s: any) => { s.ticks = xTicks.map(v => ({ value: v })) },
          afterFit: (s: any) => { s.height = XAXIS_H },
          grid: { display: false, drawTicks: false },
          border: { display: false },
          ticks: {
            color: DARK, font: { family: FONT, size: 37 }, padding: 29,
            autoSkip: false, maxRotation: 0, callback: (v: number) => fmt(v),
          },
          title: {
            display: true, text: 'UTC hours on 20250208', color: DARK,
            font: { family: FONT, size: 47 }, padding: { top: 0, bottom: 24 },
          },
        },
        y: {
          type: 'linear', min: p.yMin, max: p.yMax, bounds: 'data',
          afterBuildTicks: (s: any) => { s.ticks = p.yTicks.map(v => ({ value: v })) },
          afterFit: (s: any) => { s.width = Y_AXIS_W },
          grid: { display: false, drawTicks: false },
          border: { display: false },
          ticks: {
            color: AXIS_BLUE, font: { family: FONT, size: 37 }, padding: 28,
            autoSkip: false, callback: (v: number) => fmt(v),
          },
          title: {
            display: true, text: p.yTitle, color: AXIS_BLUE,
            font: { family: FONT, size: 47 }, padding: { top: 210, bottom: 0 },
          },
        },
      },
    },
    plugins: [framePlugin(p.legend, p.bars)],
  }
}

function Panel({ index }: { index: number }) {
  const canvasRef = useRef<HTMLCanvasElement>(null)
  useEffect(() => {
    if (!canvasRef.current) return
    const chart = new Chart(canvasRef.current, makeConfig(panels[index]))
    return () => { chart.destroy() }
  }, [index])
  return (
    <canvas
      ref={canvasRef}
      width={PAGE_W}
      height={CANVAS_H}
      style={{ position: 'absolute', left: 0, top: PANEL_TOPS[index] - PAD_TOP, width: PAGE_W, height: CANVAS_H }}
    />
  )
}

export default function App() {
  return (
    <div style={{ position: 'absolute', left: 0, top: 0, width: PAGE_W, height: 6000, background: '#fff', overflow: 'hidden' }}>
      {panels.map((_, i) => <Panel key={i} index={i} />)}
    </div>
  )
}
